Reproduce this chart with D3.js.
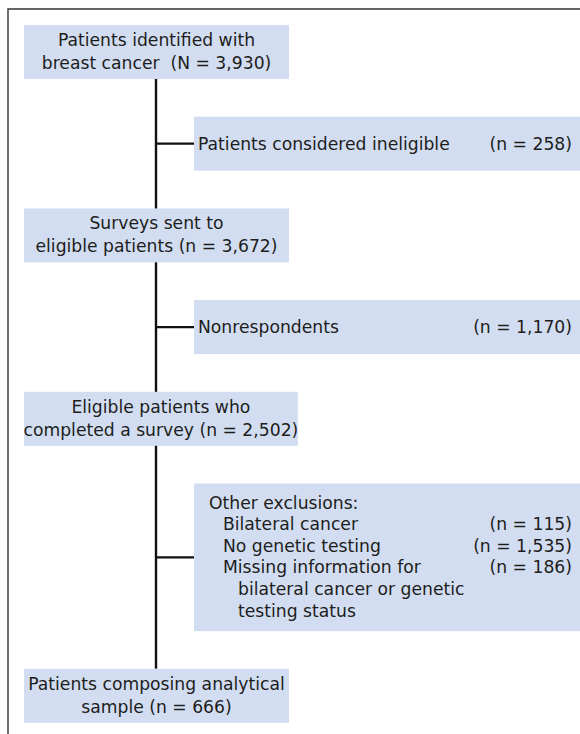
<!DOCTYPE html>
<html>
<head>
<meta charset="utf-8">
<script src="https://cdn.jsdelivr.net/npm/d3@7"></script>
<style>
  body { margin: 0; background: #fff; }
  svg text { font-family: "DejaVu Sans", sans-serif; font-size: 17.2px; fill: #1d1d1b; white-space: pre; }
</style>
</head>
<body>
<div id="chart"></div>
<script>
// main flow boxes (left column), one entry per step
var mainSteps = [
  ['Patients identified with', 'breast cancer  (N = 3,930)'],
  ['Surveys sent to', 'eligible patients (n = 3,672)'],
  ['Eligible patients who', 'completed a survey (n = 2,502)'],
  ['Patients composing analytical', 'sample (n = 666)']
]

// exclusion boxes (right column)
var exclusionLabels = ['Patients considered ineligible', 'Nonrespondents']
var exclusionCounts = ['(n = 258)', '(n = 1,170)']

var otherHeader = 'Other exclusions:'
var otherLabels = [
  ['Bilateral cancer'],
  ['No genetic testing'],
  ['Missing information for', 'bilateral cancer or genetic', 'testing status']
]
var otherCounts = ['(n = 115)', '(n = 1,535)', '(n = 186)']

var W = 580, H = 734
var cfg = {
  frameX: 8, frameY: 9,
  mainX: 24, mainW: 265,
  sideX: 194, sideRight: 580,
  top: 25, gap: 37.7, boxH: 54,
  lineH: 21.6, textRight: 572
}

var svg = d3.select('#chart').append('svg')
  .attr('width', W)
  .attr('height', H)

// build the sequence of rows: main, exclusion, main, exclusion, main, other, main
var rows = [
  {kind: 'main', lines: mainSteps[0]},
  {kind: 'side', label: exclusionLabels[0], n: exclusionCounts[0]},
  {kind: 'main', lines: mainSteps[1]},
  {kind: 'side', label: exclusionLabels[1], n: exclusionCounts[1]},
  {kind: 'main', lines: mainSteps[2]},
  {kind: 'other'},
  {kind: 'main', lines: mainSteps[3]}
]

var otherLineCount = 1 + d3.sum(otherLabels, function(d) { return d.length })
var y = cfg.top
rows.forEach(function(r) {
  r.h = r.kind === 'other' ? otherLineCount * cfg.lineH + 18 : cfg.boxH
  r.y = y
  y += r.h + cfg.gap
})

var spineX = cfg.mainX + cfg.mainW / 2 - 0.5
var fill = '#d2ddf2'

// outer frame (open to the right and bottom)
svg.append('path')
  .attr('d', d3.line()([[cfg.frameX, H + 5], [cfg.frameX, cfg.frameY], [W + 5, cfg.frameY]]))
  .attr('fill', 'none')
  .attr('stroke', '#333')
  .attr('stroke-width', 1.4)

// vertical spine
var first = rows[0], last = rows[rows.length - 1]
svg.append('line')
  .attr('x1', spineX).attr('x2', spineX)
  .attr('y1', first.y + first.h).attr('y2', last.y)
  .attr('stroke', '#111')
  .attr('stroke-width', 2.4)

rows.forEach(function(r) {
  var g = svg.append('g')
  if (r.kind === 'main') {
    var box = g.append('rect')
      .attr('x', cfg.mainX).attr('y', r.y)
      .attr('width', cfg.mainW).attr('height', r.h)
      .attr('fill', fill)
    var texts = g.selectAll('text')
      .data(r.lines)
      .enter()
      .append('text')
      .attr('y', function(d, i) { return r.y + 15 + i * 23 + 6 })
      .attr('text-anchor', 'middle')
      .text(function(d) { return d })
    // widen the box when a line does not fit
    var widest = d3.max(texts.nodes(), function(n) { return n.getComputedTextLength() })
    var w = Math.max(cfg.mainW, widest - 1)
    box.attr('width', w)
    texts.attr('x', cfg.mainX + w / 2)
    return
  }

  var cy = r.y + r.h / 2
  g.append('line')
    .attr('x1', spineX).attr('x2', cfg.sideX)
    .attr('y1', cy).attr('y2', cy)
    .attr('stroke', '#111')
    .attr('stroke-width', 2.2)
  g.append('rect')
    .attr('x', cfg.sideX).attr('y', r.y)
    .attr('width', cfg.sideRight - cfg.sideX).attr('height', r.h)
    .attr('fill', fill)

  if (r.kind === 'side') {
    g.append('text')
      .attr('x', cfg.sideX + 4).attr('y', cy + 6)
      .text(r.label)
    g.append('text')
      .attr('x', cfg.textRight).attr('y', cy + 6)
      .attr('text-anchor', 'end')
      .text(r.n)
    return
  }

  // other exclusions box
  var base = r.y + 19 + 6
  g.append('text')
    .attr('x', cfg.sideX + 15).attr('y', base)
    .text(otherHeader)
  var line = 1
  otherLabels.forEach(function(labels, k) {
    g.append('text')
      .attr('x', cfg.textRight).attr('y', base + line * cfg.lineH)
      .attr('text-anchor', 'end')
      .text(otherCounts[k])
    labels.forEach(function(t, j) {
      g.append('text')
        .attr('x', cfg.sideX + (j === 0 ? 29 : 44))
        .attr('y', base + line * cfg.lineH)
        .text(t)
      line++
    })
  })
})
</script>
</body>
</html>
